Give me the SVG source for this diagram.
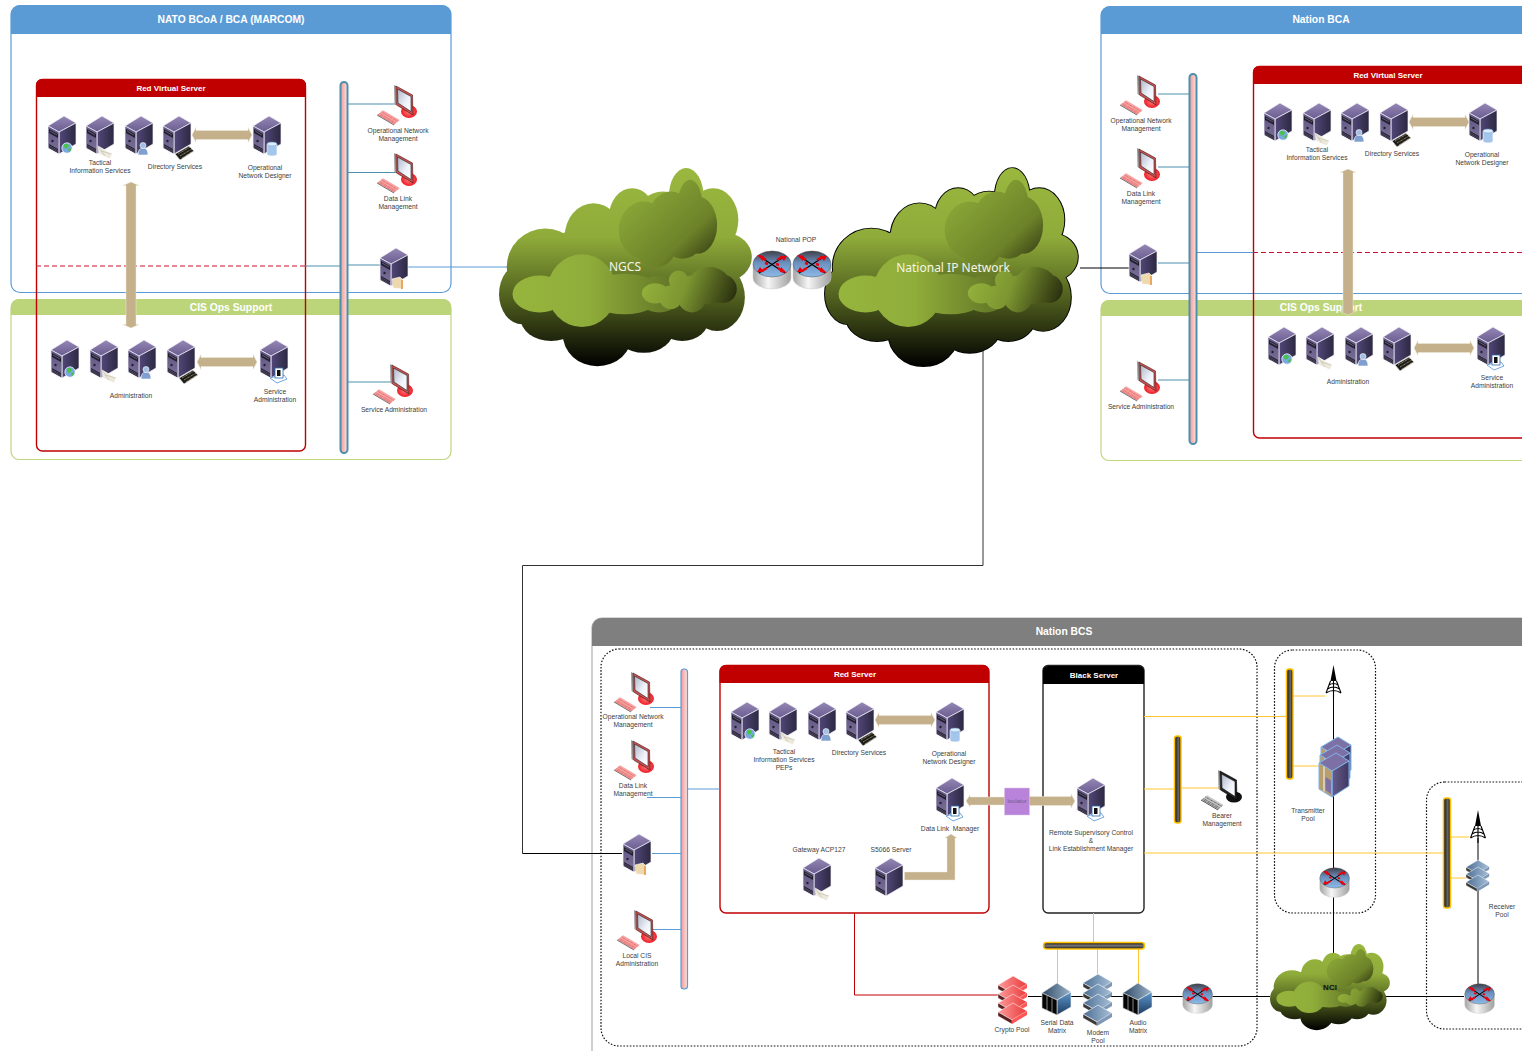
<svg xmlns="http://www.w3.org/2000/svg" width="1522" height="1051" viewBox="0 0 1522 1051">
<style>
text{font-family:"Liberation Sans",Arial,sans-serif}
.t{font-size:6.7px;fill:#404040;text-anchor:middle}
.h1{font-size:10.3px;font-weight:bold;fill:#fff;text-anchor:middle}
.h2{font-size:8px;font-weight:bold;fill:#fff;text-anchor:middle}
.cl{font-family:"Noto Sans","Open Sans",sans-serif;font-size:12px;fill:#f4f4e8;text-anchor:middle}
.box{fill:none;stroke-width:1.2}
.blue{stroke:#5b9bd5}
.grn{stroke:#c0d681}
.red{stroke:#c00000;stroke-width:1.4}
.ln{fill:none;stroke-width:1}
.lb{stroke:#5b9bd5}
.lt{stroke:#4f8fae}
.ly{stroke:#ffc62e}
.lk{stroke:#000}
.dot{fill:none;stroke:#111;stroke-width:1.2;stroke-dasharray:1.6 1.6}
.ar{fill:#c4b08a;stroke:#efe8d8;stroke-width:.5}
.busb{fill:url(#gbus);stroke:#4f8fae;stroke-width:2}
.busc{fill:url(#gbus);stroke:#5b9bd5;stroke-width:1.2}
.busy{fill:url(#gyel);stroke:#ffc000;stroke-width:1.5}
.wh{stroke:#f4f2f8;stroke-width:.7;stroke-linejoin:round}
</style>
<defs>
<linearGradient id="gbus"><stop offset="0" stop-color="#f09a9a"/><stop offset=".6" stop-color="#f9c4c0"/><stop offset="1" stop-color="#fbe4e2"/></linearGradient>
<linearGradient id="gyel"><stop offset="0" stop-color="#111"/><stop offset=".6" stop-color="#666"/><stop offset="1" stop-color="#111"/></linearGradient>
<linearGradient id="gyelh" x2="0" y2="1"><stop offset="0" stop-color="#111"/><stop offset=".5" stop-color="#777"/><stop offset="1" stop-color="#111"/></linearGradient>
<linearGradient id="gst" x2="0" y2="1"><stop offset="0" stop-color="#9587b5"/><stop offset="1" stop-color="#6a5d90"/></linearGradient>
<linearGradient id="gsr"><stop offset="0" stop-color="#52487a"/><stop offset="1" stop-color="#2c2840"/></linearGradient>
<linearGradient id="gsl" x2="0" y2="1"><stop offset="0" stop-color="#5e5482"/><stop offset="1" stop-color="#7c7299"/></linearGradient>
<linearGradient id="grt" x2="0" y2="1"><stop offset="0" stop-color="#3f3f48"/><stop offset=".45" stop-color="#6a90be"/><stop offset="1" stop-color="#8cbae6"/></linearGradient>
<linearGradient id="grb"><stop offset="0" stop-color="#a4a4a4"/><stop offset=".4" stop-color="#f6f6f6"/><stop offset="1" stop-color="#a0a0a0"/></linearGradient>
<linearGradient id="gscr" x2="1" y2="1"><stop offset="0" stop-color="#aeb6c8"/><stop offset=".6" stop-color="#eef2fa"/><stop offset="1" stop-color="#fff"/></linearGradient>
<linearGradient id="gmb" x2="0" y2="1"><stop offset="0" stop-color="#5f98cd"/><stop offset="1" stop-color="#1c3a60"/></linearGradient>
<linearGradient id="gmt" x2="1" y2="0"><stop offset="0" stop-color="#2f4a68"/><stop offset="1" stop-color="#9cb4ca"/></linearGradient>
<linearGradient id="gsb" x2="1" y2="0"><stop offset="0" stop-color="#4d6f95"/><stop offset="1" stop-color="#a8c0d8"/></linearGradient>
<linearGradient id="gmr"><stop offset="0" stop-color="#ff9a9a"/><stop offset="1" stop-color="#e83a3a"/></linearGradient>
<radialGradient id="gwb"><stop offset="0" stop-color="#ff8080"/><stop offset="1" stop-color="#ee1c25"/></radialGradient>
<linearGradient id="gc" gradientUnits="userSpaceOnUse" x1="0" y1="25" x2="0" y2="615"><stop offset="0" stop-color="#9ab83f"/><stop offset=".35" stop-color="#8fab3a"/><stop offset=".66" stop-color="#4f5e1e"/><stop offset="1" stop-color="#000"/></linearGradient>
<linearGradient id="gc1" gradientUnits="userSpaceOnUse" x1="340" y1="90" x2="590" y2="320"><stop offset="0" stop-color="#8fae3a"/><stop offset=".65" stop-color="#6d8229"/><stop offset="1" stop-color="#262b0d"/></linearGradient>
<linearGradient id="gc2" gradientUnits="userSpaceOnUse" x1="60" y1="0" x2="500" y2="0"><stop offset="0" stop-color="#96b53d"/><stop offset=".45" stop-color="#8fad3a"/><stop offset="1" stop-color="#5f7025"/></linearGradient>
<linearGradient id="gc3" gradientUnits="userSpaceOnUse" x1="395" y1="350" x2="640" y2="430"><stop offset="0" stop-color="#94b33c"/><stop offset=".45" stop-color="#7d9631"/><stop offset="1" stop-color="#23280c"/></linearGradient>
<g id="cs">
<ellipse cx="145" cy="320" rx="100" ry="115"/><ellipse cx="270" cy="230" rx="75" ry="100"/><ellipse cx="370" cy="170" rx="60" ry="85"/><ellipse cx="450" cy="170" rx="70" ry="75"/><ellipse cx="510" cy="110" rx="45" ry="85"/><ellipse cx="580" cy="180" rx="65" ry="95"/><ellipse cx="615" cy="290" rx="65" ry="70"/><ellipse cx="85" cy="400" rx="60" ry="90"/><ellipse cx="160" cy="470" rx="80" ry="70"/><ellipse cx="280" cy="520" rx="90" ry="95"/><ellipse cx="400" cy="500" rx="80" ry="75"/><ellipse cx="500" cy="470" rx="70" ry="70"/><ellipse cx="590" cy="410" rx="72" ry="100"/><ellipse cx="350" cy="350" rx="250" ry="170"/>
</g>
<g id="cin">
<g fill="url(#gc2)"><ellipse cx="130" cy="400" rx="70" ry="55"/><ellipse cx="240" cy="390" rx="90" ry="108"/><ellipse cx="350" cy="400" rx="100" ry="60"/><ellipse cx="440" cy="400" rx="60" ry="55"/></g>
<g fill="url(#gc1)"><ellipse cx="400" cy="210" rx="65" ry="85"/><ellipse cx="470" cy="180" rx="60" ry="85"/><ellipse cx="520" cy="135" rx="32" ry="75"/><ellipse cx="540" cy="195" rx="50" ry="85"/><ellipse cx="430" cy="255" rx="55" ry="65"/><ellipse cx="500" cy="240" rx="50" ry="55"/></g>
<g fill="url(#gc3)"><ellipse cx="430" cy="398" rx="35" ry="30"/><ellipse cx="470" cy="410" rx="30" ry="35"/><ellipse cx="490" cy="360" rx="25" ry="30"/><ellipse cx="525" cy="400" rx="40" ry="55"/><ellipse cx="570" cy="375" rx="55" ry="55"/><ellipse cx="605" cy="385" rx="36" ry="42"/></g>
</g>
<g id="srv">
<polygon points="0,10 16,0 28,7 11,16" fill="url(#gst)" class="wh"/>
<polygon points="11,16 28,7 28,28 11,38" fill="url(#gsr)" class="wh"/>
<polygon points="0,10 11,16 11,38 0,32" fill="url(#gsl)" class="wh"/>
<polygon points="1,13 10,18 10,22 1,17" fill="#23202e"/>
<path d="M2,15l7,4" stroke="#9a90b8" stroke-width=".5"/>
<circle cx="4.500" cy="25" r="1.200" fill="#23202e"/>
<polygon points="1,28 10,33 10,37 1,32" fill="#23202e"/>
<path d="M1,29.500l9,5M1,31l9,5" stroke="#8a80a8" stroke-width=".4"/>
</g>
<g id="ov-globe"><circle cx="19" cy="32" r="5.200" fill="#7aa8e0" stroke="#fff" stroke-width=".7"/><path d="M16,28.500q3,-2 5,1q-1,3 -3,3q-2,1 -2,-4zM20,33l3,-1q0,3 -2,4z" fill="#46c446"/></g>
<g id="ov-mail"><polygon points="12,30 26,38 24,43 13,38" fill="#ece8da" stroke="#fff" stroke-width=".7"/><path d="M12,30l7,10M26,38l-11,-3" stroke="#a8a294" stroke-width=".4" fill="none"/></g>
<g id="ov-user"><path d="M13,39q0,-7 5,-7q5,0 5,7z" fill="#7f9fd0" stroke="#fff" stroke-width=".6"/><circle cx="18" cy="29.500" r="3" fill="#a4bfe4" stroke="#fff" stroke-width=".6"/></g>
<g id="ov-kbd"><polygon points="12,38 26,30 31,35 17,44" fill="#1c1c1c" stroke="#e8e8e8" stroke-width=".7"/><path d="M15,38l12,-7M17,40l12,-7M19,42l11,-7" stroke="#d8c88a" stroke-width=".7" stroke-dasharray="1 .6" fill="none"/></g>
<g id="ov-db"><path d="M14,28v10a5,2 0 0 0 10,0v-10z" fill="#a4c6ea" stroke="#fff" stroke-width=".6"/><ellipse cx="19" cy="28" rx="5" ry="2" fill="#dcecf9" stroke="#6e9ed8" stroke-width=".5"/></g>
<g id="ov-folder"><polygon points="12,31 20,29 23,32 23,41 13,40" fill="#eed8ae" stroke="#fff" stroke-width=".6"/><rect x="21" y="32" width="2" height="9" fill="#e8a860"/></g>
<g id="ov-tools"><path d="M10,38l7,-2 7,-1 3,4 -10,4z" fill="#fff" stroke="#4d8fd0" stroke-width=".8"/><rect x="15" y="28" width="8" height="10" fill="#fff" stroke="#2c6aaa" stroke-width=".8"/><rect x="17" y="30" width="3.500" height="6" fill="#111"/></g>
<g id="s-globe"><use href="#srv"/><use href="#ov-globe"/></g>
<g id="s-mail"><use href="#srv"/><use href="#ov-mail"/></g>
<g id="s-user"><use href="#srv"/><use href="#ov-user"/></g>
<g id="s-kbd"><use href="#srv"/><use href="#ov-kbd"/></g>
<g id="s-db"><use href="#srv"/><use href="#ov-db"/></g>
<g id="s-folder"><use href="#srv"/><use href="#ov-folder"/></g>
<g id="s-tools"><use href="#srv"/><use href="#ov-tools"/></g>
<g id="wr">
<ellipse cx="32" cy="26.500" rx="8" ry="6.500" fill="url(#gwb)"/>
<polygon points="17,0 19,1 19,20 17.500,19" fill="#9a9a9a"/>
<polygon points="19,1 35.500,10 36,30 19.500,20" fill="#c85050" stroke="#4a1818" stroke-width=".6"/>
<polygon points="20.500,4 34,11.500 34,26.500 21,18" fill="url(#gscr)" stroke="#222" stroke-width=".6"/>
<polygon points="0,30 6,25 23,35 17,40" fill="#f6a0a0" stroke="#fff" stroke-width=".5"/>
<path d="M2.500,28.500l16.500,9.500M4.500,27l16.500,9.500M1.500,29.500l16.500,9.500" stroke="#d04040" stroke-width=".6" stroke-dasharray="1 .6"/>
<path d="M0,30l17,10" stroke="#555" stroke-width=".8"/>
</g>
<g id="wk">
<ellipse cx="33" cy="27" rx="8" ry="5.500" fill="#111"/>
<polygon points="17,0 19,1 19,20 17.500,19" fill="#9a9a9a"/>
<polygon points="19,1 35.500,10 36,30 19.500,20" fill="#222" stroke="#000" stroke-width=".6"/>
<polygon points="20.500,4 34,11.500 34,26.500 21,18" fill="url(#gscr)" stroke="#111" stroke-width=".6"/>
<polygon points="0,30 6,25 23,35 17,40" fill="#c4c4c4" stroke="#fff" stroke-width=".5"/>
<path d="M2.500,28.500l16.500,9.500M4.500,27l16.500,9.500M1.500,29.500l16.500,9.500" stroke="#222" stroke-width=".7" stroke-dasharray="1 .6"/>
<path d="M0,30l17,10" stroke="#333" stroke-width=".8"/>
</g>
<g id="rt">
<path d="M1,14v14a19,11 0 0 0 38,0v-14z" fill="url(#grb)" stroke="#ccc" stroke-width=".5"/>
<ellipse cx="20" cy="14" rx="19" ry="13" fill="url(#grt)" stroke="#555" stroke-width=".5"/>
<path d="M7,6l26,17M33,6l-26,17" stroke="#000" stroke-width="1.300"/>
<path d="M14,10l-6,-4M26,18l6,4M25,10l6,-3.500M15,18l-6,3.500M16,14l-3,-1M24,14l3,1" stroke="#e8000d" stroke-width="2.400"/>
<path d="M11,11l-6,-6 7,1zM29,17l6,6 -7,-1zM28,6l7,0 -3,5zM12,22l-7,0 3,-5z" fill="#e8000d"/>
</g>
<g id="harr"><polygon class="ar" points="0,8 4,.5 4,3.500 56,3.500 56,.5 60,8 56,15.500 56,12.500 4,12.500 4,15.500"/></g>
<g id="varr"><polygon class="ar" points="8,0 16,3.500 13,3.500 13,142.500 16,142.500 8,146 0,142.500 3,142.500 3,3.500 0,3.500"/></g>
<g id="tw"><polygon points="8.500,0 11.500,16 5.500,16"/><path d="M5.500,16L1,28M11.500,16L16,28M8.500,16v17M1,28q7.500,-5 15,0M2.500,24q6,-4 12,0M4,20q4.500,-3 9,0" fill="none" stroke="#000" stroke-width="1.100"/></g>
<g id="slb"><polygon points="0,9 15,0 29,8 14,17" fill="url(#gsb)" stroke="#fff" stroke-width=".6"/><polygon points="0,9 14,17 14,21 0,13" fill="#3a3a3a" stroke="#fff" stroke-width=".5"/><polygon points="14,17 29,8 29,12 14,21" fill="#7f98b6"/></g>
<g id="slr"><polygon points="0,9 15,0 29,8 14,17" fill="url(#gmr)" stroke="#fff" stroke-width=".5"/><polygon points="0,9 14,17 14,21 0,13" fill="#5a2020" stroke="#fff" stroke-width=".4"/><polygon points="14,17 29,8 29,12 14,21" fill="#f55"/></g>
<g id="mx"><polygon points="1,10 16,0 30,9 16,17" fill="url(#gmt)" stroke="#eee" stroke-width=".6"/><polygon points="16,17 30,9 30,24 16,32" fill="url(#gmb)" stroke="#eee" stroke-width=".6"/><polygon points="1,10 16,17 16,32 1,25" fill="#050505" stroke="#ccc" stroke-width=".7"/><path d="M6,13v14M11,15.500v14" stroke="#ddd" stroke-width=".6"/></g>
<linearGradient id="gcr"><stop offset="0" stop-color="#675c8c"/><stop offset="1" stop-color="#3f3860"/></linearGradient>
<g id="cab"><polygon points="0,10 17,0 30,8 13,18" fill="#7d70a4" stroke="#7fb4e8"/><polygon points="13,18 30,8 30,33 13,44" fill="url(#gcr)" stroke="#7fb4e8"/><polygon points="0,10 13,18 13,44 0,36" fill="#b89e6e" stroke="#7fb4e8"/><path d="M5,13.500v25" stroke="#f0ece0" stroke-width="1.200"/><polygon points="6.500,24 12,27.500 12,41 6.500,37" fill="#7d70a4"/></g>
</defs>

<g id="containers">
<g id="nato"><rect class="box blue" x="11" y="5.500" width="440" height="287" rx="9"/><path d="M11,34V14a9,9 0 0 1 9,-9H442a9,9 0 0 1 9,9V34z" fill="#5b9bd5"/><text class="h1" x="231" y="23">NATO BCoA / BCA (MARCOM)</text></g>
<g id="cis-left"><rect class="box grn" x="11" y="299.500" width="440" height="160" rx="8"/><path d="M11,315V307a8,8 0 0 1 8,-8H443a8,8 0 0 1 8,8V315z" fill="#bdd57a"/><text class="h1" x="231" y="310.500">CIS Ops Support</text></g>
<g id="red-virtual-left"><rect class="box red" x="36.500" y="79.500" width="269" height="371.500" rx="6"/><path d="M36,97V85a6,6 0 0 1 6,-6H300a6,6 0 0 1 6,6V97z" fill="#c00000"/><text class="h2" x="171" y="91">Red Virtual Server</text></g>
<g id="nation-bca"><rect class="box blue" x="1101" y="6.500" width="440" height="287" rx="9"/><path d="M1101,34V15a9,9 0 0 1 9,-9H1541V34z" fill="#5b9bd5"/><text class="h1" x="1321" y="23">Nation BCA</text></g>
<g id="cis-right"><rect class="box grn" x="1101" y="300.500" width="440" height="160" rx="8"/><path d="M1101,316V308a8,8 0 0 1 8,-8H1541V316z" fill="#bdd57a"/><text class="h1" x="1321" y="311">CIS Ops Support</text></g>
<g id="red-virtual-right"><rect class="box red" x="1253.500" y="66.500" width="290" height="371.500" rx="6"/><path d="M1253,84V72a6,6 0 0 1 6,-6H1541V84z" fill="#c00000"/><text class="h2" x="1388" y="78">Red Virtual Server</text></g>
<g id="nation-bcs"><rect x="592" y="618" width="960" height="450" rx="10" fill="none" stroke="#b0b0b0" stroke-width="1.200"/><path d="M592,646V628a10,10 0 0 1 10,-10H1552V646z" fill="#7f7f7f"/><text class="h1" x="1064" y="635">Nation BCS</text></g>
<rect id="zone-main" class="dot" x="601" y="649" width="656" height="397" rx="18"/>
<rect id="zone-tx" class="dot" x="1274.500" y="650" width="101" height="263" rx="18"/>
<rect id="zone-rx" class="dot" x="1426.500" y="782" width="120" height="247" rx="18"/>
<g id="red-server"><rect class="box red" x="720" y="665.500" width="269" height="247.500" rx="6"/><path d="M719.500,683V671a6,6 0 0 1 6,-6H983a6,6 0 0 1 6,6V683z" fill="#c00000"/><text class="h2" x="855" y="677">Red Server</text></g>
<g id="black-server"><rect x="1043" y="665.500" width="101" height="247.500" rx="5" fill="none" stroke="#222" stroke-width="1.400"/><path d="M1043,684V671a5,5 0 0 1 5,-5H1139a5,5 0 0 1 5,5V684z" fill="#000"/><text class="h2" x="1094" y="678">Black Server</text></g>
</g>

<g id="connectors">
<path class="ln" d="M36,266H305" stroke="#c8102e" stroke-dasharray="5 3"/>
<path class="ln lt" d="M305,266H340"/><path class="ln lt" d="M348,265H380M348,104H396M348,172.500H396M348,382H392"/>
<path class="ln lb" d="M408,267H510"/>
<path class="ln" d="M1253,252.500H1522" stroke="#c8102e" stroke-dasharray="5 3"/>
<path class="ln lb" d="M1197,252.500H1253"/>
<path class="ln lt" d="M1158,94H1189M1158,167H1189M1158,263H1189M1158,380H1189"/>
<path class="ln lk" d="M1080,268H1129"/>
<path class="ln" d="M983,350V565.500H522.500V853.500" stroke="#333" stroke-width="1.100"/>
<path class="ln" d="M522.500,853.500H622" stroke="#000" stroke-width="1.400"/>
<path class="ln lb" d="M650,707.500H681M647,797.500H681M652,853.500H681M650,929.500H681M687,789H720"/>
<path class="ln" d="M854.500,913V995H998" stroke="#c00000" stroke-width="1.200"/>
<path class="ln ly" d="M1144,716.500H1286M1293,696H1325M1293,766H1320M1144,789H1174M1181,788H1221M1144,853H1443M1451,837H1469M1451,878H1466M1093.500,913V942M1057.500,949V986M1097.500,949V975M1138.500,949V985" stroke-width="1.200"/>
<path class="ln lk" d="M1333.500,695V955M1478,838V985M1028,996.500H1270M1380,996.500H1464"/>
</g>

<g id="ngcs"><g transform="translate(499,168) scale(.386,.336) translate(-25,-25)"><use href="#cs" fill="url(#gc)"/><use href="#cin"/></g><text class="cl" x="625" y="271">NGCS</text></g>
<g id="national-ip"><g transform="translate(825,168) scale(.386,.336) translate(-25,-25)"><use href="#cs" fill="none" stroke="#000" stroke-width="5"/><use href="#cs" fill="url(#gc)"/><use href="#cin"/></g><text class="cl" x="953" y="272">National IP Network</text></g>
<g id="nci"><g transform="translate(1270,944) scale(.183,.146) translate(-25,-25)"><use href="#cs" fill="url(#gc)"/><use href="#cin"/></g><text x="1330" y="990" font-size="8" font-weight="bold" fill="#111" text-anchor="middle">NCI</text></g>
<g id="pop"><use href="#rt" x="752" y="250"/><use href="#rt" x="792" y="250"/><text class="t" x="796" y="242">National POP</text></g>

<g id="bus-left"><rect class="busb" x="340.500" y="82" width="7" height="371" rx="3.500"/></g>
<g id="bus-right"><rect class="busb" x="1189.500" y="74" width="7" height="370" rx="3.500"/></g>
<g id="bus-bcs"><rect class="busc" x="681" y="669" width="6.500" height="320" rx="3"/></g>
<g id="bus-y1"><rect class="busy" x="1286.500" y="669" width="6.500" height="110" rx="2.500"/></g>
<g id="bus-y2"><rect class="busy" x="1174.500" y="736" width="6.500" height="87" rx="2.500"/></g>
<g id="bus-y3"><rect class="busy" x="1443.500" y="798" width="7" height="110" rx="2.500"/></g>
<g id="bus-y4"><rect x="1043.500" y="942.500" width="101" height="6.500" rx="3" fill="url(#gyelh)" stroke="#ffc000" stroke-width="1.500"/></g>

<g id="l-row1">
<use href="#s-globe" x="48" y="116"/><use href="#s-mail" x="86" y="116"/><use href="#s-user" x="125" y="116"/><use href="#s-kbd" x="163" y="116"/><use href="#s-db" x="253" y="116"/>
<text class="t" y="164.500"><tspan x="100">Tactical</tspan><tspan x="100" dy="8">Information Services</tspan></text>
<text class="t" x="175" y="169">Directory Services</text>
<text class="t" y="170"><tspan x="265">Operational</tspan><tspan x="265" dy="8">Network Designer</tspan></text>
<use href="#harr" x="192" y="127"/>
</g>
<use id="l-varr" href="#varr" x="123" y="182"/>
<g id="l-row2">
<use href="#s-globe" x="51" y="340"/><use href="#s-mail" x="90" y="340"/><use href="#s-user" x="128" y="340"/><use href="#s-kbd" x="167" y="340"/><use href="#s-tools" x="260" y="340"/>
<text class="t" x="131" y="398">Administration</text>
<text class="t" y="394"><tspan x="275">Service</tspan><tspan x="275" dy="8">Administration</tspan></text>
<use href="#harr" x="197" y="354"/>
</g>
<g id="l-onm"><use href="#wr" x="377" y="85"/><text class="t" y="133"><tspan x="398">Operational Network</tspan><tspan x="398" dy="8">Management</tspan></text></g>
<g id="l-dlm"><use href="#wr" x="377" y="153"/><text class="t" y="201"><tspan x="398">Data Link</tspan><tspan x="398" dy="8">Management</tspan></text></g>
<g id="l-gw"><use href="#s-folder" x="380" y="248"/></g>
<g id="l-sa"><use href="#wr" x="373" y="364"/><text class="t" x="394" y="412">Service Administration</text></g>

<g id="r-row1">
<use href="#s-globe" x="1264" y="103"/><use href="#s-mail" x="1303" y="103"/><use href="#s-user" x="1341" y="103"/><use href="#s-kbd" x="1380" y="103"/><use href="#s-db" x="1469" y="103"/>
<text class="t" y="152"><tspan x="1317">Tactical</tspan><tspan x="1317" dy="8">Information Services</tspan></text>
<text class="t" x="1392" y="156">Directory Services</text>
<text class="t" y="157"><tspan x="1482">Operational</tspan><tspan x="1482" dy="8">Network Designer</tspan></text>
<use href="#harr" x="1409" y="114"/>
</g>
<use id="r-varr" href="#varr" x="1340" y="169"/>
<g id="r-row2">
<use href="#s-globe" x="1268" y="327"/><use href="#s-mail" x="1306" y="327"/><use href="#s-user" x="1345" y="327"/><use href="#s-kbd" x="1383" y="327"/><use href="#s-tools" x="1477" y="327"/>
<text class="t" x="1348" y="384">Administration</text>
<text class="t" y="380"><tspan x="1492">Service</tspan><tspan x="1492" dy="8">Administration</tspan></text>
<use href="#harr" x="1414" y="340"/>
</g>
<g id="r-onm"><use href="#wr" x="1120" y="75"/><text class="t" y="123"><tspan x="1141">Operational Network</tspan><tspan x="1141" dy="8">Management</tspan></text></g>
<g id="r-dlm"><use href="#wr" x="1120" y="148"/><text class="t" y="196"><tspan x="1141">Data Link</tspan><tspan x="1141" dy="8">Management</tspan></text></g>
<g id="r-gw"><use href="#s-folder" x="1129" y="244"/></g>
<g id="r-sa"><use href="#wr" x="1120" y="361"/><text class="t" x="1141" y="409">Service Administration</text></g>

<g id="b-onm"><use href="#wr" x="614" y="672"/><text class="t" y="719"><tspan x="633">Operational Network</tspan><tspan x="633" dy="8">Management</tspan></text></g>
<g id="b-dlm"><use href="#wr" x="614" y="740"/><text class="t" y="788"><tspan x="633">Data Link</tspan><tspan x="633" dy="8">Management</tspan></text></g>
<g id="b-gw"><use href="#s-folder" x="623" y="834"/></g>
<g id="b-local"><use href="#wr" x="617" y="910"/><text class="t" y="958"><tspan x="637">Local CIS</tspan><tspan x="637" dy="8">Administration</tspan></text></g>
<g id="b-row">
<use href="#s-globe" x="731" y="702"/><use href="#s-mail" x="769" y="702"/><use href="#s-user" x="808" y="702"/><use href="#s-kbd" x="846" y="702"/><use href="#s-db" x="936" y="702"/>
<text class="t" y="754"><tspan x="784">Tactical</tspan><tspan x="784" dy="8">Information Services</tspan><tspan x="784" dy="8">PEPs</tspan></text>
<text class="t" x="859" y="755">Directory Services</text>
<text class="t" y="756"><tspan x="949">Operational</tspan><tspan x="949" dy="8">Network Designer</tspan></text>
<use href="#harr" x="875" y="712"/>
</g>
<g id="b-dlman"><use href="#s-tools" x="936" y="778"/><text class="t" x="950" y="831" xml:space="preserve">Data Link  Manager</text></g>
<g id="b-acp"><use href="#s-mail" x="803" y="858"/><text class="t" x="819" y="852">Gateway ACP127</text></g>
<g id="b-s5066"><use href="#srv" x="875" y="858"/><text class="t" x="891" y="852">S5066 Server</text>
<polygon class="ar" points="904.500,872 947,872 947,838 945,838 951,834 957,838 955,838 955,880 904.500,880"/></g>
<g id="isolator">
<polygon class="ar" points="966,801 970,795 970,797 1005,797 1005,805 970,805 970,807"/>
<polygon class="ar" points="1029,796.500 1071,796.500 1071,794 1075,801 1071,808 1071,805.500 1029,805.500"/>
<rect x="1004.500" y="788" width="25" height="27" fill="#b883d9" stroke="#dcc4ea" stroke-width=".5"/><text x="1017" y="803" font-size="6" fill="#7a5a8a" text-anchor="middle">Isolator</text></g>
<g id="b-rsc"><use href="#s-tools" x="1077" y="778"/><text class="t" y="835"><tspan x="1091">Remote Supervisory Control</tspan><tspan x="1091" dy="8">&amp;</tspan><tspan x="1091" dy="8">Link Establishment Manager</tspan></text></g>
<g id="b-bearer"><use href="#wk" x="1201" y="770"/><text class="t" y="818"><tspan x="1222">Bearer</tspan><tspan x="1222" dy="8">Management</tspan></text></g>
<g id="tx-tower"><use href="#tw" x="1325" y="665"/></g>
<g id="tx-rack"><use href="#cab" x="1321" y="737"/><use href="#cab" x="1320" y="745"/><use href="#cab" x="1319" y="753"/><text class="t" y="813"><tspan x="1308">Transmitter</tspan><tspan x="1308" dy="8">Pool</tspan></text></g>
<g id="tx-router"><use href="#rt" transform="translate(1319,867) scale(.78)"/></g>
<g id="rx-tower"><use href="#tw" x="1469.500" y="810"/></g>
<g id="rx-stack"><use href="#slb" transform="translate(1466,860) scale(.8)"/><use href="#slb" transform="translate(1466,867) scale(.8)"/><use href="#slb" transform="translate(1466,875) scale(.8)"/><text class="t" y="909"><tspan x="1502">Receiver</tspan><tspan x="1502" dy="8">Pool</tspan></text></g>
<g id="rx-router"><use href="#rt" transform="translate(1464,983) scale(.78)"/></g>
<g id="crypto"><use href="#slr" transform="translate(998,976)"/><use href="#slr" transform="translate(998,985)"/><use href="#slr" transform="translate(998,994)"/><use href="#slr" transform="translate(998,1003)"/><text class="t" x="1012" y="1032">Crypto Pool</text></g>
<g id="serial"><use href="#mx" x="1041" y="983"/><text class="t" y="1025"><tspan x="1057">Serial Data</tspan><tspan x="1057" dy="8">Matrix</tspan></text></g>
<g id="modem"><use href="#slb" x="1083" y="974"/><use href="#slb" x="1083" y="984"/><use href="#slb" x="1083" y="994"/><use href="#slb" x="1083" y="1005"/><text class="t" y="1035"><tspan x="1098">Modem</tspan><tspan x="1098" dy="8">Pool</tspan></text></g>
<g id="audio"><use href="#mx" x="1122" y="983"/><text class="t" y="1025"><tspan x="1138">Audio</tspan><tspan x="1138" dy="8">Matrix</tspan></text></g>
<g id="main-router"><use href="#rt" transform="translate(1182,983) scale(.78)"/></g>
</svg>
